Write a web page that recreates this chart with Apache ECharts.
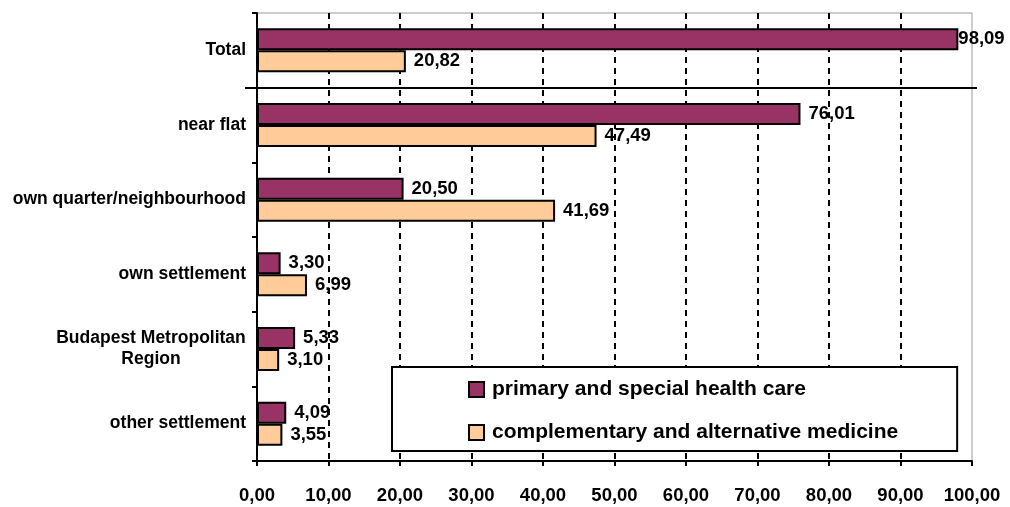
<!DOCTYPE html>
<html>
<head>
<meta charset="utf-8">
<title>health care distance</title>
<script src="https://cdn.jsdelivr.net/npm/echarts@6/dist/echarts.min.js"></script>
<style>
  html, body { margin: 0; padding: 0; background: #fff; }
</style>
</head>
<body>
<div id="main" style="width:1010px;height:507px"></div>
<script>
// categories, top to bottom
var categories = ['Total', 'near flat', 'own quarter/neighbourhood', 'own settlement',
  'Budapest Metropolitan\nRegion', 'other settlement'];
var seriesNames = ['primary and special health care', 'complementary and alternative medicine'];
var primaryValues = [98.09, 76.01, 20.50, 3.30, 5.33, 4.09];
var complementaryValues = [20.82, 47.49, 41.69, 6.99, 3.10, 3.55];
var xTicks = [0, 100, 10]; // min, max, step

var FONT = "'Liberation Sans', Arial, sans-serif";
var CAT_SIZE = 17.5;
var NUM_SIZE = 18.5;

function fmt(v) {
  return Number(v).toFixed(2).replace('.', ',');
}

// bars reaching the right edge get their label pulled in so it fits
function barData(values) {
  return values.map(function (v) {
    if (v > 95) return { value: v, label: { distance: 0 } };
    return v;
  });
}

// width of the widest line, so the two-line label can be centred
var cv = document.createElement('canvas').getContext('2d');
cv.font = 'bold ' + CAT_SIZE + 'px ' + FONT;
function lineWidth(s) { return Math.ceil(cv.measureText(s).width); }
var maxLine = 0;
categories.forEach(function (c) {
  if (c.indexOf('\n') < 0) return;
  c.split('\n').forEach(function (l) { maxLine = Math.max(maxLine, lineWidth(l)); });
});

var myChart = echarts.init(document.getElementById('main'));

var option = {
  animation: false,
  backgroundColor: '#fff',
  grid: {
    left: 257, right: 38, top: 13, bottom: 46,
    show: true, borderColor: '#999', borderWidth: 1
  },
  legend: {
    orient: 'vertical',
    left: 392, top: 367,
    padding: [12, 59, 8, 76],
    itemGap: 22,
    icon: 'rect',
    itemWidth: 15, itemHeight: 15,
    backgroundColor: '#fff',
    borderColor: '#000', borderWidth: 2, borderRadius: 0,
    textStyle: {
      color: '#000', fontFamily: FONT, fontWeight: 'bold', fontSize: 21,
      padding: [0, 0, 0, 3]
    },
    data: seriesNames
  },
  xAxis: {
    type: 'value',
    min: xTicks[0], max: xTicks[1], interval: xTicks[2],
    axisLine: { show: true, lineStyle: { color: '#000', width: 2 } },
    axisTick: { show: true, length: 5, lineStyle: { color: '#000', width: 2 } },
    axisLabel: {
      margin: 25, color: '#000', fontFamily: FONT, fontWeight: 'bold', fontSize: NUM_SIZE,
      formatter: fmt
    },
    splitLine: {
      show: true, showMaxLine: false, showMinLine: false,
      lineStyle: { color: '#000', width: 2, type: [6, 5] }
    }
  },
  yAxis: {
    type: 'category',
    inverse: true,
    data: categories,
    axisLine: { show: true, lineStyle: { color: '#000', width: 2 } },
    axisTick: { show: true, length: 5, lineStyle: { color: '#000', width: 2 } },
    axisLabel: {
      margin: 11, color: '#000', fontFamily: FONT, fontWeight: 'bold', fontSize: CAT_SIZE,
      formatter: function (v) {
        if (v.indexOf('\n') < 0) return v;
        return v.split('\n').map(function (l) { return '{c|' + l + '}'; }).join('\n');
      },
      rich: {
        c: {
          width: maxLine, align: 'center', lineHeight: 21,
          color: '#000', fontFamily: FONT, fontWeight: 'bold', fontSize: CAT_SIZE
        }
      }
    }
  },
  series: [{
    name: seriesNames[0],
    type: 'bar',
    data: barData(primaryValues),
    barGap: '0%',
    barCategoryGap: '41%',
    itemStyle: { color: '#993366', borderColor: '#000', borderWidth: 2 },
    label: {
      show: true, position: 'right', distance: 8,
      color: '#000', fontFamily: FONT, fontWeight: 'bold', fontSize: NUM_SIZE,
      formatter: function (p) { return fmt(p.value); }
    }
  }, {
    name: seriesNames[1],
    type: 'bar',
    data: barData(complementaryValues),
    barGap: '0%',
    barCategoryGap: '41%',
    itemStyle: { color: '#FFCC99', borderColor: '#000', borderWidth: 2 },
    label: {
      show: true, position: 'right', distance: 8,
      color: '#000', fontFamily: FONT, fontWeight: 'bold', fontSize: NUM_SIZE,
      formatter: function (p) { return fmt(p.value); }
    }
  }]
};

myChart.setOption(option);

// black separator under "Total", running a little past both axes
var y0 = myChart.convertToPixel({ yAxisIndex: 0 }, categories[0]);
var y1 = myChart.convertToPixel({ yAxisIndex: 0 }, categories[1]);
var ySep = Math.round((y0 + y1) / 2);
myChart.setOption({
  graphic: [{
    type: 'line', z: 100,
    shape: { x1: 245, y1: ySep, x2: 977, y2: ySep },
    style: { stroke: '#000', lineWidth: 2 }
  }]
});
</script>
</body>
</html>
